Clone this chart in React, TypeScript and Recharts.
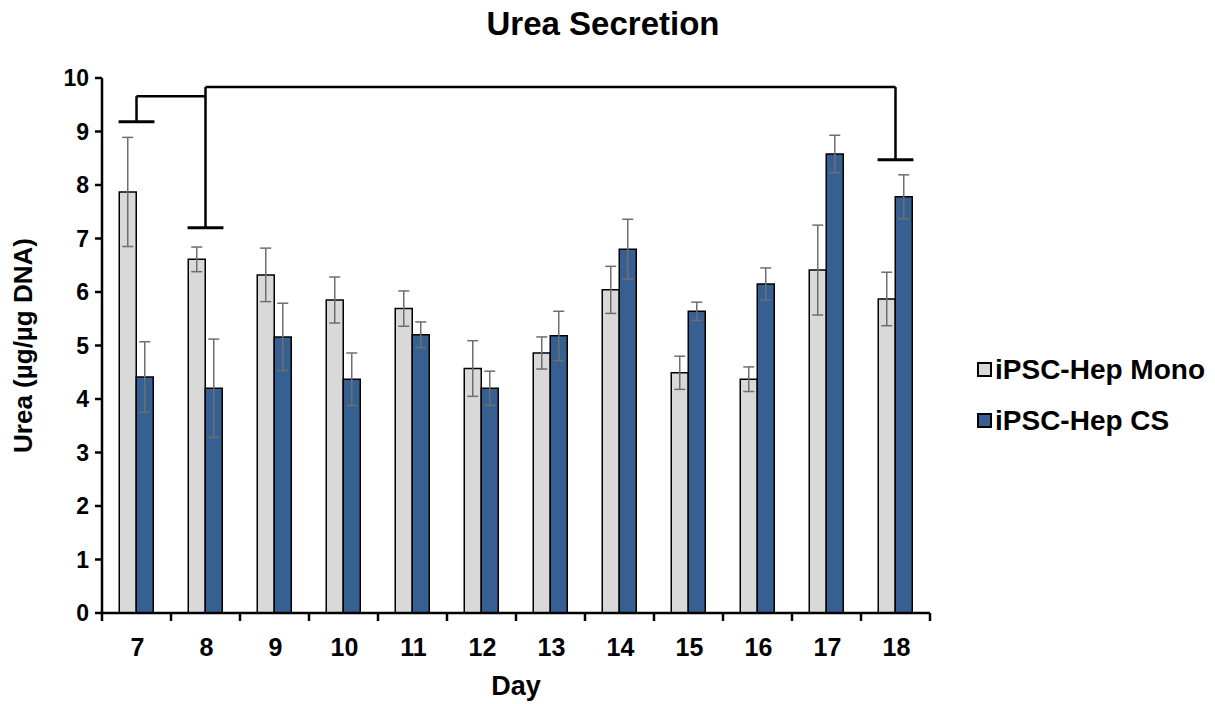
import React from "react"
import { BarChart, Bar, ErrorBar, XAxis, YAxis, Legend, Label, ReferenceLine } from "recharts"

const days = ["7", "8", "9", "10", "11", "12", "13", "14", "15", "16", "17", "18"]
const monoMean = [7.87, 6.61, 6.32, 5.85, 5.69, 4.57, 4.86, 6.04, 4.49, 4.37, 6.41, 5.87]
const monoErr = [1.02, 0.23, 0.5, 0.43, 0.33, 0.52, 0.3, 0.44, 0.31, 0.23, 0.84, 0.5]
const csMean = [4.41, 4.2, 5.16, 4.37, 5.2, 4.2, 5.18, 6.8, 5.64, 6.15, 8.58, 7.78]
const csErr = [0.66, 0.92, 0.63, 0.49, 0.24, 0.32, 0.46, 0.56, 0.17, 0.3, 0.35, 0.41]
const yTicks = [0, 1, 2, 3, 4, 5, 6, 7, 8, 9, 10]

// significance brackets, as (day, value) polylines plus caps
const sigPaths = [
  [[7, 9.18], [7, 9.66], [8, 9.66]],
  [[8, 7.2], [8, 9.83], [18, 9.83], [18, 8.47]],
]
const sigCaps = [
  { day: 7, y: 9.18 },
  { day: 8, y: 7.2 },
  { day: 18, y: 8.47 },
]

const series = [
  { key: "mono", err: "monoErr", name: "iPSC-Hep Mono", color: "#d9d9d9" },
  { key: "cs", err: "csErr", name: "iPSC-Hep CS", color: "#376092" },
]

const rows = days.map((d, i) => ({
  day: d,
  dayNum: Number(d),
  mono: monoMean[i],
  monoErr: monoErr[i],
  cs: csMean[i],
  csErr: csErr[i],
}))

const FONT = '"Liberation Sans", Arial, sans-serif'
const W = 1199
const H = 696
const M = { top: 70, right: 277, left: 1, bottom: 51 }
const Y_W = 93
const PLOT_W = W - M.left - M.right - Y_W
const STEP = PLOT_W / days.length
const CAP = 0.26

const DayTick = ({ x, y, payload, index }: any) => (
  <g>
    <line x1={x - STEP / 2} x2={x - STEP / 2} y1={y - 8} y2={y} stroke="#000" strokeWidth={2.5} />
    {index === days.length - 1 && (
      <line x1={x + STEP / 2} x2={x + STEP / 2} y1={y - 8} y2={y} stroke="#000" strokeWidth={2.5} />
    )}
    <text x={x + 1} y={y + 35} textAnchor="middle" fontFamily={FONT} fontWeight={700} fontSize={25} fill="#000">
      {payload.value}
    </text>
  </g>
)

const LegendBox = () => (
  <div style={{ fontFamily: FONT, fontWeight: 700, fontSize: 28, color: "#000", whiteSpace: "nowrap" }}>
    {series.map((s) => (
      <div key={s.key} style={{ display: "flex", alignItems: "center", height: 51 }}>
        <span
          style={{
            display: "inline-block",
            width: 11,
            height: 11,
            background: s.color,
            border: "2px solid #000",
            marginRight: 3,
          }}
        />
        <span>{s.name}</span>
      </div>
    ))}
  </div>
)

export default function App() {
  return (
    <div style={{ position: "relative", width: W, height: H, fontFamily: FONT }}>
      <div
        style={{
          position: "absolute",
          left: 0,
          top: -2,
          width: 1190,
          textAlign: "center",
          fontSize: 33,
          fontWeight: 700,
          lineHeight: "36px",
          color: "#000",
        }}
      >
        Urea Secretion
      </div>
      <BarChart width={W} height={H} data={rows} margin={M} barCategoryGap="25%" barGap={0}>
        <XAxis
          dataKey="day"
          height={40}
          tickSize={8}
          tickMargin={0}
          tickLine={false}
          axisLine={{ stroke: "#000", strokeWidth: 2.5 }}
          tick={<DayTick />}
          interval={0}
        >
          <Label
            content={({ viewBox }: any) => (
              <text
                x={viewBox.x + viewBox.width / 2}
                y={viewBox.y + 75}
                textAnchor="middle"
                dominantBaseline="middle"
                fontFamily={FONT}
                fontWeight={700}
                fontSize={27}
                fill="#000"
              >
                Day
              </text>
            )}
          />
        </XAxis>
        <XAxis xAxisId="num" type="number" dataKey="dayNum" domain={[6.5, 18.5]} allowDataOverflow hide />
        <YAxis
          width={Y_W}
          domain={[0, 10]}
          ticks={yTicks}
          interval={0}
          tickSize={7}
          tickMargin={6}
          axisLine={{ stroke: "#000", strokeWidth: 2.5 }}
          tickLine={{ stroke: "#000", strokeWidth: 2.5 }}
          tick={{ fill: "#000", fontSize: 23, fontWeight: 700, fontFamily: FONT }}
        >
          <Label
            content={({ viewBox }: any) => {
              const cx = viewBox.x + 16
              const cy = viewBox.y + viewBox.height / 2
              return (
                <text
                  x={cx}
                  y={cy}
                  transform={`rotate(-90, ${cx}, ${cy})`}
                  textAnchor="middle"
                  dominantBaseline="middle"
                  fontFamily={FONT}
                  fontWeight={700}
                  fontSize={26}
                  fill="#000"
                >
                  Urea (µg/µg DNA)
                </text>
              )
            }}
          />
        </YAxis>
        {series.map((s) => (
          <Bar
            key={s.key}
            dataKey={s.key}
            name={s.name}
            fill={s.color}
            stroke="#000"
            strokeWidth={1.5}
            isAnimationActive={false}
          >
            <ErrorBar dataKey={s.err} width={5.5} stroke="#6e6e6e" strokeWidth={1.5} direction="y" />
          </Bar>
        ))}
        {sigPaths.flatMap((p, pi) =>
          p.slice(1).map((pt, i) => (
            <ReferenceLine
              key={`p${pi}-${i}`}
              xAxisId="num"
              segment={[
                { x: p[i][0], y: p[i][1] },
                { x: pt[0], y: pt[1] },
              ]}
              stroke="#000"
              strokeWidth={2.5}
              ifOverflow="visible"
            />
          ))
        )}
        {sigCaps.map((c, i) => (
          <ReferenceLine
            key={`c${i}`}
            xAxisId="num"
            segment={[
              { x: c.day - CAP, y: c.y },
              { x: c.day + CAP, y: c.y },
            ]}
            stroke="#000"
            strokeWidth={3}
            ifOverflow="visible"
          />
        ))}
        <Legend
          layout="vertical"
          align="center"
          verticalAlign="middle"
          wrapperStyle={{ left: 969, top: 336, width: 229 }}
          content={() => <LegendBox />}
        />
      </BarChart>
    </div>
  )
}
